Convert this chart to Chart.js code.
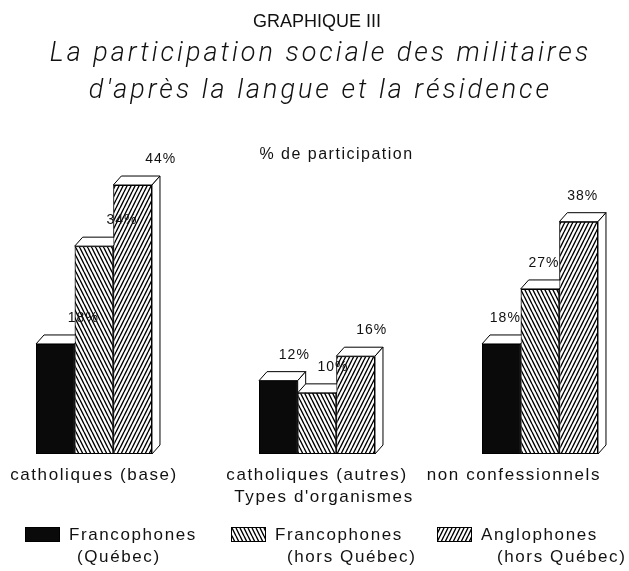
<!DOCTYPE html>
<html>
<head>
<meta charset="utf-8">
<script src="https://cdn.jsdelivr.net/npm/chart.js@4"></script>
<style>
  html, body { margin: 0; padding: 0; background: #fff; }
  #wrap { width: 629px; height: 571px; }
</style>
</head>
<body>
<div id="wrap"><canvas id="chart" width="629" height="571"></canvas></div>
<script>
// data (% de participation)
const categories = ['catholiques (base)', 'catholiques (autres)', 'non confessionnels'];
const francoQuebec = [18, 12, 18];
const francoHorsQuebec = [34, 10, 27];
const angloHorsQuebec = [44, 16, 38];
const seriesNames = [
  ['Francophones', '(Québec)'],
  ['Francophones', '(hors Québec)'],
  ['Anglophones', '(hors Québec)']
];
const subtitleLines = ['La participation sociale des militaires', "d'après la langue et la résidence"];
const yMax = 53;

const canvas = document.getElementById('chart');
const ctx0 = canvas.getContext('2d');
const FONT = "'Liberation Sans', Arial, sans-serif";

// steep diagonal hatching, dir 1 = '\\\\', dir -1 = '////'
function hatch(dir) {
  const c = document.createElement('canvas');
  c.width = 4; c.height = 8;
  const g = c.getContext('2d');
  g.fillStyle = '#fff';
  g.fillRect(0, 0, 4, 8);
  g.strokeStyle = '#000';
  g.lineWidth = 1.4;
  g.beginPath();
  for (let k = -4; k <= 8; k += 4) {
    if (dir > 0) { g.moveTo(k, 0); g.lineTo(k + 4, 8); }
    else { g.moveTo(k, 8); g.lineTo(k + 4, 0); }
  }
  g.stroke();
  return ctx0.createPattern(c, 'repeat');
}
const fills = ['#0a0a0a', hatch(1), hatch(-1)];

const dx = 8, dy = 9;

// redraws bars left to right with the white top and side faces
const bars3d = {
  id: 'bars3d',
  afterDatasetsDraw(chart) {
    const ctx = chart.ctx;
    ctx.save();
    chart.data.datasets.forEach((ds, i) => {
      const meta = chart.getDatasetMeta(i);
      meta.data.forEach(bar => {
        bar.draw(ctx);
        const p = bar.getProps(['x', 'y', 'base', 'width'], true);
        const l = p.x - p.width / 2, r = p.x + p.width / 2;
        ctx.lineWidth = 1;
        ctx.strokeStyle = '#000';
        ctx.fillStyle = '#fff';
        ctx.beginPath();
        ctx.moveTo(l, p.y); ctx.lineTo(l + dx, p.y - dy);
        ctx.lineTo(r + dx, p.y - dy); ctx.lineTo(r, p.y);
        ctx.closePath(); ctx.fill(); ctx.stroke();
        ctx.beginPath();
        ctx.moveTo(r, p.y); ctx.lineTo(r + dx, p.y - dy);
        ctx.lineTo(r + dx, p.base - dy); ctx.lineTo(r, p.base);
        ctx.closePath(); ctx.fill(); ctx.stroke();
      });
    });
    // value labels, drifting left a little from group to group as in the print
    ctx.fillStyle = '#111';
    ctx.font = '14px ' + FONT;
    ctx.letterSpacing = '1px';
    ctx.textAlign = 'center';
    ctx.textBaseline = 'middle';
    chart.data.datasets.forEach((ds, i) => {
      chart.getDatasetMeta(i).data.forEach((bar, j) => {
        ctx.fillText(ds.data[j] + '%', bar.x + 28 - 12 * j, bar.y - 26);
      });
    });
    ctx.restore();
  }
};

// subtitle, axis texts and legend
const texts = {
  id: 'texts',
  afterDraw(chart) {
    const ctx = chart.ctx;
    const xs = chart.scales.x;
    const area = chart.chartArea;
    ctx.save();
    ctx.fillStyle = '#111';
    ctx.textAlign = 'center';

    ctx.textBaseline = 'alphabetic';
    ctx.font = "italic 300 27px Roboto, 'Liberation Sans', sans-serif";
    ctx.letterSpacing = '3px';
    subtitleLines.forEach((t, i) => ctx.fillText(t, chart.width / 2 + 6, 61 + i * 37));

    ctx.textBaseline = 'middle';
    ctx.letterSpacing = '1.5px';
    ctx.font = '16px ' + FONT;
    ctx.fillText('% de participation', chart.width / 2 + 22, 155);

    ctx.font = '17px ' + FONT;
    ctx.letterSpacing = '1.6px';
    categories.forEach((c, i) => {
      const w = ctx.measureText(c).width;
      let x = xs.getPixelForValue(i);
      x = Math.min(x, chart.width - 28 - w / 2);
      ctx.fillText(c, x, 475);
    });
    ctx.fillText("Types d'organismes", (area.left + area.right) / 2 + 7, 497);

    // legend
    ctx.textAlign = 'left';
    seriesNames.forEach((name, i) => {
      const sx = 25 + i * 206;
      ctx.fillStyle = fills[i];
      ctx.fillRect(sx, 527, 35, 15);
      ctx.strokeStyle = '#000';
      ctx.lineWidth = 1;
      ctx.strokeRect(sx + 0.5, 527.5, 34, 14);
      ctx.fillStyle = '#111';
      ctx.fillText(name[0], sx + 44, 535);
      ctx.fillText(name[1], sx + 52 + i * 4, 557);
    });
    ctx.restore();
  }
};

new Chart(canvas, {
  type: 'bar',
  data: {
    labels: categories,
    datasets: [francoQuebec, francoHorsQuebec, angloHorsQuebec].map((d, i) => ({
      label: seriesNames[i].join(' '),
      data: d,
      backgroundColor: fills[i],
      borderColor: '#000',
      borderWidth: 1,
      borderSkipped: false,
      clip: false
    }))
  },
  options: {
    responsive: false,
    animation: false,
    events: [],
    layout: { padding: { top: 11, bottom: 117, left: 94, right: 89 } },
    datasets: { bar: { categoryPercentage: 0.52, barPercentage: 1 } },
    scales: {
      x: { display: false, offset: false },
      y: { display: false, min: 0, max: yMax }
    },
    plugins: {
      legend: { display: false },
      tooltip: { enabled: false },
      title: {
        display: true,
        text: 'GRAPHIQUE III',
        color: '#111',
        font: { family: FONT, size: 18, weight: 'normal', lineHeight: 1.2 },
        padding: { top: 0, bottom: 97.4 }
      },
      subtitle: { display: false }
    }
  },
  plugins: [bars3d, texts]
});
</script>
</body>
</html>
